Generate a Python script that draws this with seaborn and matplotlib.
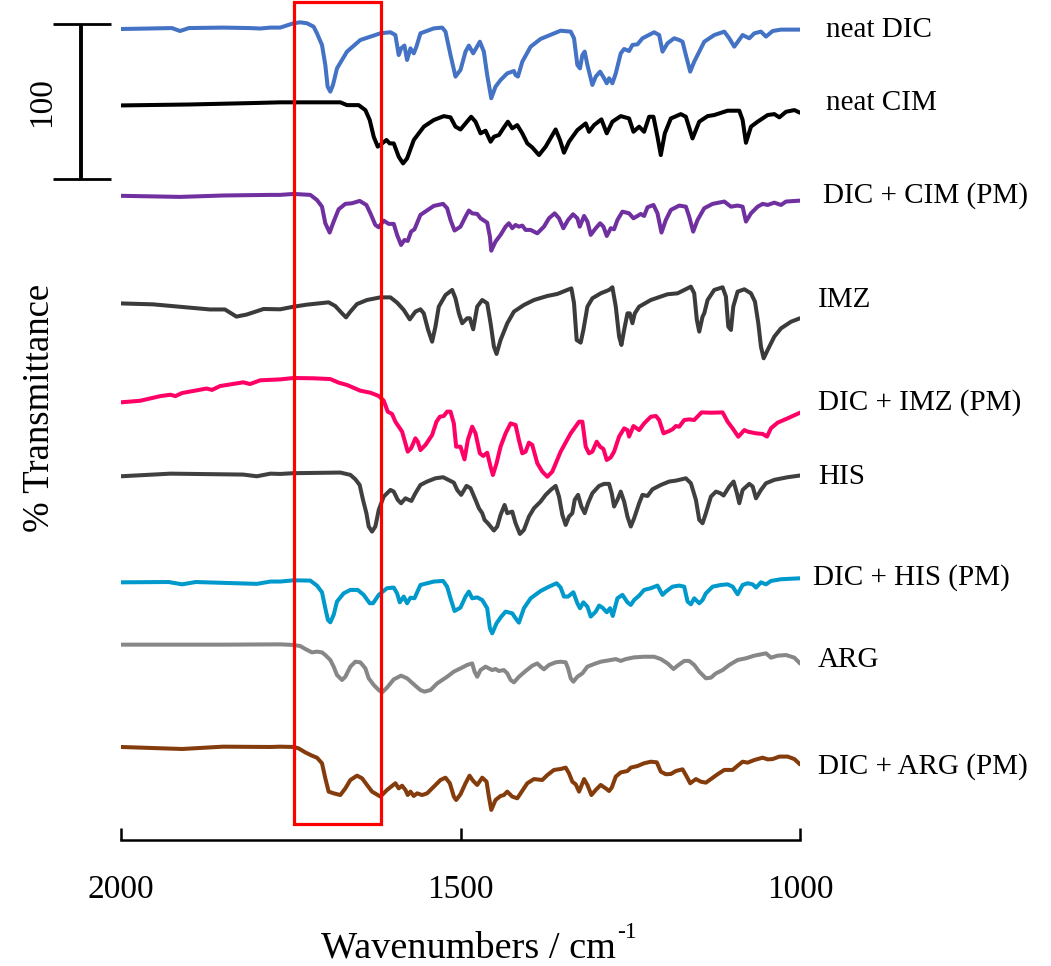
import matplotlib
matplotlib.use("Agg")
import matplotlib.pyplot as plt
from matplotlib.patches import Rectangle
import pandas as pd
import seaborn as sns

# FTIR spectra, (wavenumber / cm-1, % transmittance) pairs per sample
NEAT_DIC = [(2000, 95.7), (1960, 96.0), (1925, 96.3), (1913, 94.4), (1900, 96.3), (1850, 96.6), (1810, 96.3),
            (1795, 96.0), (1780, 96.6), (1765.5, 96.6), (1745.8, 99.4), (1736, 100), (1726.2, 99.4), (1716.3, 97.2),
            (1711.4, 92.9), (1704, 85.4), (1699.1, 72.5), (1695.7, 58.5), (1691.7, 55.3), (1687.8, 59.6),
            (1681.9, 70.3), (1667.2, 81.1), (1647.5, 88.6), (1618, 92.9), (1603.2, 93.6), (1595.9, 91.8),
            (1591, 78.9), (1587.5, 83.2), (1582.6, 85.0), (1578.7, 75.7), (1573.7, 83.2), (1568.8, 80.0),
            (1564.9, 84.3), (1559, 92.9), (1539.3, 96.1), (1527, 96.6), (1522.1, 94.0), (1514.7, 78.9),
            (1507.4, 65.0), (1500, 69.3), (1492.6, 81.1), (1487.7, 85.0), (1481.3, 80.0), (1471.5, 87.5),
            (1465.6, 81.1), (1460.7, 66.0), (1454.7, 51.0), (1448.4, 58.5), (1441, 62.8), (1431.1, 67.1),
            (1421.3, 68.6), (1418.9, 66.0), (1415.4, 65.0), (1409, 74.6), (1396.7, 84.3), (1382, 89.3),
            (1352.5, 94.6), (1337.7, 94.0), (1332.8, 89.7), (1327.9, 72.5), (1324, 70.3), (1320.5, 78.9),
            (1317.1, 81.1), (1313.1, 72.5), (1305.8, 59.6), (1300.8, 65.0), (1294.4, 68.2), (1288.5, 63.9),
            (1284.6, 60.7), (1281.2, 63.9), (1276.3, 60.7), (1271.3, 67.1), (1264, 80.0), (1259, 82.8),
            (1251.7, 81.5), (1246.8, 85.4), (1239.4, 85.8), (1232, 89.7), (1214.8, 93.6), (1207.4, 91.8),
            (1202.5, 81.1), (1195.1, 86.5), (1185.3, 89.7), (1177.9, 88.6), (1173, 87.5), (1168.1, 78.9),
            (1161.7, 68.2), (1155.8, 74.6), (1141, 87.5), (1126.3, 91.8), (1111.5, 94.0), (1104.2, 89.7),
            (1096.8, 84.3), (1084.5, 91.8), (1074.7, 89.7), (1067.3, 92.9), (1057.5, 94.0), (1050.1, 90.8),
            (1040.3, 94.4), (1028, 95.3), (1000, 95.3)]

NEAT_CIM = [(2000, 97.4), (1900, 98.0), (1800, 99.0), (1765.5, 99.4), (1677, 99.4), (1667.2, 97.6), (1650, 97.6),
            (1640.1, 94.4), (1633.7, 88.0), (1627.8, 77.2), (1621.9, 70.8), (1615.5, 72.9), (1609.1, 75.1),
            (1604.2, 72.9), (1598.3, 72.9), (1591, 64.3), (1584.6, 60.0), (1578.7, 63.2), (1568.8, 75.1),
            (1554, 83.7), (1539.3, 88.0), (1524.6, 90.5), (1514.7, 89.7), (1507.4, 83.7), (1500, 81.9),
            (1492.6, 85.8), (1484.3, 90.1), (1477.9, 86.9), (1470.5, 79.4), (1463.1, 81.1), (1455.7, 74.0),
            (1450.8, 77.2), (1443.4, 78.3), (1437, 82.6), (1430.2, 86.9), (1423.8, 82.6), (1416.4, 84.7),
            (1409, 79.4), (1401.6, 72.9), (1394.3, 70.3), (1384.4, 65.4), (1374.6, 70.8), (1359.9, 81.9),
            (1353.5, 75.1), (1347.6, 66.9), (1340.2, 74.0), (1327.9, 81.5), (1315.6, 85.8), (1310.7, 80.4),
            (1303.3, 84.7), (1292.5, 88.4), (1284.6, 79.4), (1276.3, 86.9), (1264, 90.5), (1251.7, 89.0),
            (1245.3, 80.4), (1236.9, 83.7), (1229.6, 80.4), (1222.2, 90.1), (1215.8, 90.1), (1209.9, 77.2),
            (1205, 65.4), (1199.1, 79.4), (1190.2, 89.0), (1175.5, 91.8), (1168.1, 90.1), (1158.3, 76.1),
            (1148.4, 86.9), (1136.1, 90.5), (1126.3, 91.2), (1106.6, 94.0), (1089.4, 94.0), (1084.5, 88.0),
            (1079.6, 73.3), (1072.2, 83.7), (1062.4, 86.9), (1047.6, 91.2), (1037.8, 91.8), (1030.4, 89.7),
            (1020.6, 93.3), (1008.3, 94.4), (1000, 92.7)]

DIC_CIM_PM = [(2000, 98.8), (1913, 98.1), (1850, 99.0), (1780, 99.4), (1765.5, 99.4), (1745.8, 100),
              (1721.2, 99.4), (1711.4, 96.1), (1704, 91.8), (1699.1, 81.1), (1692.7, 75.1), (1686.8, 82.2),
              (1679.5, 90.1), (1669.6, 93.6), (1659.8, 94.0), (1648.5, 95.5), (1638.6, 92.9), (1632.7, 87.5),
              (1625.4, 80.0), (1620.4, 78.5), (1613.1, 82.8), (1605.7, 80.7), (1598.3, 80.7), (1593.4, 73.6),
              (1587.5, 67.1), (1582.6, 70.3), (1577.7, 69.7), (1572.8, 75.7), (1567.8, 77.2), (1559, 86.5),
              (1539.3, 92.3), (1525.6, 93.6), (1519.7, 90.8), (1514.7, 83.2), (1508.8, 76.4), (1500, 78.9),
              (1492.6, 85.4), (1487.7, 89.3), (1482.8, 87.5), (1475.4, 87.1), (1470.5, 84.3), (1460.7, 81.5),
              (1456.7, 72.5), (1454.7, 63.4), (1448.4, 69.3), (1441, 73.6), (1433.6, 78.9), (1428.7, 81.1),
              (1423.8, 77.9), (1418.9, 80.0), (1414, 78.9), (1409, 79.6), (1404.1, 76.8), (1396.7, 76.8),
              (1386.9, 74.6), (1377.1, 78.9), (1369.7, 84.3), (1361.3, 87.5), (1354.9, 84.3), (1348.5, 77.9),
              (1341.6, 83.2), (1334.3, 86.9), (1327.9, 84.3), (1324.4, 78.9), (1318, 85.8), (1313.1, 82.2),
              (1308.2, 73.6), (1300.8, 77.9), (1294.4, 81.1), (1289.5, 78.9), (1284.6, 72.9), (1278.7, 77.9),
              (1273.8, 77.2), (1268.9, 83.2), (1261.5, 88.6), (1251.7, 87.5), (1245.3, 84.3), (1239.4, 85.8),
              (1234.5, 87.1), (1229.6, 85.8), (1224.6, 91.4), (1215.8, 92.9), (1209.9, 87.5), (1204, 75.1),
              (1197.6, 83.2), (1190.2, 89.7), (1177.9, 92.5), (1168.1, 91.8), (1163.2, 85.4), (1157.3, 75.7),
              (1150.9, 83.2), (1141, 90.8), (1128.7, 93.6), (1111.5, 95.1), (1101.7, 91.8), (1091.9, 92.5),
              (1084.5, 91.8), (1079.6, 82.2), (1072.2, 87.5), (1062.4, 91.8), (1055, 93.6), (1047.6, 92.9),
              (1037.8, 94.4), (1028, 92.9), (1020.6, 95.1), (1000, 95.7)]

IMZ = [(2000, 89.2), (1953, 88.6), (1869, 85.3), (1847, 85.3), (1830, 80.7), (1815, 82.0), (1790, 85.6),
       (1765.5, 85.4), (1745.8, 87.1), (1726.2, 88.4), (1694.2, 89.9), (1684.4, 87.5), (1674.5, 82.8),
       (1668.6, 80.2), (1662.2, 83.9), (1652.4, 88.8), (1637.7, 91.4), (1618, 93.1), (1603.2, 93.1),
       (1593.4, 89.7), (1583.6, 85.0), (1574.7, 78.9), (1566.4, 83.9), (1559, 85.4), (1554.1, 82.8),
       (1547.7, 72.1), (1541.8, 64.5), (1536.9, 74.2), (1532, 87.1), (1522.1, 94.6), (1512.3, 97.9),
       (1507.4, 92.5), (1502.4, 82.8), (1497.5, 76.4), (1490.2, 79.6), (1486.2, 79.6), (1481.3, 72.5),
       (1475.4, 87.1), (1468, 91.4), (1460.7, 89.3), (1455.7, 76.4), (1450.8, 61.3), (1446.9, 56.6),
       (1441, 65.6), (1431.1, 76.4), (1421.3, 83.9), (1406.6, 88.2), (1391.8, 91.4), (1372.1, 94.0),
       (1357.4, 95.3), (1342.6, 97.9), (1336.7, 98.9), (1332.8, 89.3), (1328.9, 65.6), (1323, 63.9),
       (1319, 72.1), (1313.1, 87.1), (1305.8, 92.5), (1293.5, 95.7), (1281.2, 97.9), (1276.3, 99.6),
       (1271.3, 87.1), (1266.4, 67.8), (1263, 62.4), (1259, 72.1), (1254.1, 82.8), (1250.7, 82.8),
       (1246.8, 76.4), (1243.3, 82.8), (1236.9, 87.1), (1219.7, 91.4), (1195.1, 95.1), (1180.4, 95.7),
       (1160.7, 100), (1155.8, 95.7), (1151.9, 78.5), (1148.4, 71.0), (1143.5, 80.7), (1141, 82.8),
       (1136.1, 91.4), (1126.3, 97.9), (1114, 99.6), (1109.1, 93.6), (1105.6, 74.2), (1101.7, 72.1),
       (1098.3, 87.1), (1091.9, 96.8), (1082, 98.3), (1072.2, 95.7), (1066.3, 90.3), (1061.4, 76.4),
       (1057.5, 61.3), (1053.5, 53.8), (1047.6, 59.2), (1037.8, 67.8), (1028, 73.1), (1013.2, 77.4),
       (1000, 79.6)]

DIC_IMZ_PM = [(2000, 84.1), (1972, 85.1), (1942, 88.1), (1927, 89.0), (1920, 88.1), (1910, 90.1), (1874, 93.0),
              (1866, 92.1), (1854, 94.6), (1820, 97.0), (1810, 95.9), (1795, 98.3), (1765.5, 98.9),
              (1745.8, 99.8), (1716.3, 99.6), (1691.7, 99.1), (1679.5, 96.8), (1667.2, 95.3), (1647.5, 91.6),
              (1632.7, 90.3), (1620.4, 88.2), (1613.1, 85.2), (1607.2, 78.1), (1600.8, 76.6), (1595.9, 71.6),
              (1586, 65.2), (1581.1, 57.6), (1577.7, 52.3), (1572.8, 54.4), (1566.4, 60.9), (1562.9, 58.7),
              (1559, 53.3), (1551.6, 56.6), (1541.8, 63.0), (1535.4, 71.6), (1530.5, 74.8), (1524.6, 75.3),
              (1519.7, 78.1), (1514.7, 78.1), (1509.8, 70.5), (1506.4, 55.5), (1500, 55.5), (1494.1, 47.3),
              (1489.2, 59.8), (1482.8, 68.4), (1477.9, 64.1), (1471.5, 51.2), (1466.5, 49.5), (1460.7, 51.6),
              (1455.7, 42.6), (1452.3, 37.2), (1446.9, 44.8), (1441, 55.5), (1433.6, 64.1), (1426.2, 70.5),
              (1418.9, 69.5), (1414, 59.8), (1409, 51.2), (1404.1, 52.3), (1399.2, 58.1), (1394.3, 56.6),
              (1386.9, 44.8), (1379.5, 39.4), (1372.1, 36.1), (1364.8, 39.4), (1352.5, 52.3), (1337.7, 64.1),
              (1325.4, 71.6), (1320.5, 71.6), (1315.6, 55.5), (1310.7, 51.2), (1305.8, 52.3), (1299.4, 58.7),
              (1294.5, 55.5), (1289.5, 54.0), (1284.6, 46.9), (1278.7, 48.6), (1273.8, 52.3), (1266.4, 62.0),
              (1259, 67.3), (1254.1, 66.2), (1251.7, 62.0), (1245.3, 68.8), (1240.4, 67.3), (1236.9, 66.2),
              (1229.6, 70.5), (1219.7, 74.8), (1212.3, 75.3), (1207.4, 72.7), (1201, 64.1), (1192.7, 65.6),
              (1187.8, 66.7), (1182.8, 68.8), (1177.9, 68.4), (1170.5, 72.7), (1163.2, 73.1), (1155.8, 72.7),
              (1145, 77.6), (1131.2, 77.4), (1114, 77.6), (1106.6, 71.6), (1099.2, 67.3), (1090.9, 61.9),
              (1082, 66.2), (1077.1, 65.2), (1064.8, 64.1), (1055, 63.7), (1048.6, 62.0), (1042.7, 67.4),
              (1032.9, 71.0), (1018.1, 73.8), (1000, 77.4)]

HIS = [(2000, 97.4), (1927, 99.1), (1820, 98.5), (1800, 97.4), (1780, 99.1), (1765.5, 98.9), (1745.8, 99.4),
       (1677, 99.8), (1662.2, 98.3), (1654.9, 95.5), (1648.5, 91.8), (1643.6, 82.2), (1638.6, 73.6),
       (1635.2, 65.0), (1630.3, 61.7), (1625.4, 65.0), (1620.4, 75.7), (1613.1, 84.3), (1603.2, 88.6),
       (1598.3, 87.5), (1592.4, 82.2), (1587.5, 80.0), (1581.1, 83.2), (1576.2, 82.2), (1572.3, 81.5),
       (1566.4, 86.5), (1559, 91.8), (1549.2, 94.0), (1536.9, 96.1), (1525.6, 96.8), (1519.7, 95.5),
       (1509.8, 93.3), (1504.9, 88.6), (1499, 85.4), (1491.1, 91.2), (1485.2, 89.7), (1477.9, 82.2),
       (1472.9, 76.8), (1468, 73.6), (1464.6, 69.3), (1459.7, 67.1), (1450.8, 62.4), (1445.9, 65.0),
       (1441, 72.5), (1435.1, 78.9), (1431.1, 73.6), (1423.8, 74.6), (1418.9, 67.1), (1412.5, 60.2),
       (1406.6, 62.8), (1399.2, 71.4), (1391.8, 76.8), (1382, 81.1), (1374.6, 85.4), (1367.2, 88.6),
       (1359.9, 91.2), (1354.9, 84.3), (1350, 72.5), (1345.1, 66.0), (1340.2, 71.4), (1335.3, 73.6),
       (1331.8, 82.2), (1326.9, 85.4), (1322, 77.9), (1317.1, 73.6), (1312.2, 80.0), (1305.8, 86.5),
       (1295.9, 91.2), (1288.5, 92.5), (1281.2, 92.5), (1277.3, 86.5), (1273.8, 77.9), (1268.9, 82.2),
       (1264, 87.5), (1259, 81.1), (1254.1, 71.4), (1249.2, 65.0), (1244.3, 70.3), (1236.9, 80.0),
       (1232, 85.4), (1224.6, 84.7), (1217.3, 89.0), (1205, 91.8), (1192.7, 94.0), (1182.8, 94.6),
       (1168.1, 96.1), (1160.7, 92.9), (1153.3, 82.2), (1148.4, 69.3), (1143.5, 67.1), (1138.6, 73.6),
       (1131.2, 84.3), (1123.8, 87.5), (1117.4, 86.5), (1112.5, 85.0), (1104.2, 90.8), (1097.8, 94.0),
       (1092.9, 86.5), (1089.4, 80.0), (1084.5, 88.6), (1074.7, 92.5), (1069.7, 90.8), (1064.8, 83.2),
       (1057.5, 88.6), (1050.1, 92.9), (1037.8, 95.1), (1018.1, 96.8), (1000, 97.9)]

DIC_HIS_PM = [(2000, 97.4), (1930, 97.6), (1910, 96.1), (1890, 97.6), (1800, 96.4), (1780, 97.9), (1765.5, 97.9),
              (1745.8, 98.7), (1721.2, 98.5), (1711.4, 95.3), (1704, 91.0), (1699.1, 80.7), (1695.2, 73.1),
              (1691.7, 71.6), (1686.8, 76.4), (1681.9, 85.0), (1672.1, 90.3), (1662.2, 92.5), (1651.4, 92.5),
              (1642.6, 89.3), (1633.7, 83.9), (1628.8, 83.9), (1620.4, 89.3), (1608.2, 93.6), (1598.3, 94.0),
              (1593.4, 90.3), (1589.5, 84.5), (1583.6, 88.2), (1578.7, 83.9), (1573.7, 87.5), (1567.8, 87.1),
              (1559, 95.7), (1539.3, 97.9), (1525.6, 98.3), (1519.7, 94.6), (1514.7, 87.1), (1508.8, 78.9),
              (1500, 81.1), (1492.6, 88.2), (1487.7, 91.4), (1482.8, 87.1), (1475.4, 87.7), (1468, 86.0),
              (1460.7, 80.7), (1456.7, 67.8), (1453.3, 64.5), (1446.9, 71.0), (1440, 75.3), (1433.6, 78.5),
              (1423.8, 77.4), (1418.9, 74.2), (1414, 71.4), (1406.6, 80.7), (1396.7, 87.1), (1382, 91.8),
              (1369.7, 94.6), (1358.4, 96.8), (1352.5, 94.0), (1347.6, 88.2), (1341.6, 88.2), (1333.8, 91.0),
              (1327.9, 83.9), (1324, 80.7), (1319, 84.5), (1313.1, 81.7), (1308.2, 75.3), (1300.8, 78.5),
              (1295.9, 82.4), (1291, 81.1), (1284.6, 78.1), (1279.7, 80.7), (1275.8, 75.7), (1268.9, 87.1),
              (1261.5, 89.3), (1254.1, 84.5), (1249.2, 82.8), (1244.3, 86.0), (1236.9, 88.8), (1229.6, 92.5),
              (1219.7, 93.6), (1209.9, 95.3), (1202.5, 89.3), (1197.6, 91.4), (1187.8, 94.6), (1177.9, 95.3),
              (1170.5, 94.6), (1165.6, 85.0), (1160.7, 83.2), (1155.8, 87.1), (1148.4, 83.9), (1143.5, 86.0),
              (1138.6, 90.3), (1128.7, 94.6), (1116.5, 95.7), (1106.6, 96.1), (1099.2, 94.6), (1091.9, 89.7),
              (1084.5, 95.7), (1077.1, 96.8), (1069.7, 96.1), (1064.8, 94.0), (1057.5, 97.4), (1050.1, 96.1),
              (1042.7, 98.3), (1028, 99.4), (1000, 100)]

ARG = [(2000, 99.8), (1850, 99.8), (1765.5, 100), (1745.8, 99.6), (1736, 98.9), (1728.6, 97.0), (1718.8, 94.8),
       (1711.4, 95.3), (1704, 94.8), (1699.1, 93.1), (1691.7, 89.9), (1686.8, 85.6), (1681.9, 80.2),
       (1674.5, 77.0), (1669.6, 79.1), (1662.2, 85.6), (1654.9, 88.8), (1647.5, 88.4), (1640.1, 84.5),
       (1635.2, 78.1), (1627.8, 73.8), (1620.4, 70.5), (1615.5, 69.0), (1608.2, 72.1), (1598.3, 77.4),
       (1587.5, 79.8), (1578.7, 78.1), (1568.8, 74.2), (1559, 70.5), (1553.1, 69.5), (1544.2, 70.5),
       (1534.4, 74.8), (1519.7, 79.1), (1509.8, 82.4), (1500, 84.5), (1490.2, 86.7), (1482.8, 87.7),
       (1479.3, 82.4), (1475.4, 79.1), (1470.5, 83.4), (1463.1, 85.6), (1458.2, 84.5), (1453.3, 83.4),
       (1448.4, 84.1), (1443.4, 82.8), (1436.1, 83.4), (1431.1, 81.3), (1426.2, 77.0), (1421.3, 75.5),
       (1413.9, 79.1), (1404.1, 82.8), (1394.3, 86.2), (1386.9, 87.7), (1382, 85.6), (1377.1, 83.9),
       (1369.7, 86.7), (1359.9, 88.4), (1352.5, 88.8), (1345.1, 88.4), (1341.6, 84.5), (1337.7, 78.1),
       (1333.8, 75.9), (1327.9, 79.1), (1320.5, 81.3), (1313.1, 85.6), (1303.3, 87.3), (1293.5, 88.8),
       (1278.7, 89.9), (1271.3, 90.5), (1264, 89.3), (1256.6, 90.5), (1244.3, 91.6), (1229.6, 92.0),
       (1214.8, 92.0), (1205, 90.5), (1195.1, 87.7), (1186.3, 84.1), (1180.4, 86.2), (1170.5, 89.3),
       (1163.2, 89.3), (1155.8, 86.7), (1148.4, 82.4), (1138.6, 78.1), (1131.2, 78.5), (1123.8, 81.3),
       (1114, 83.4), (1104.2, 86.7), (1091.9, 89.9), (1079.6, 91.0), (1067.3, 92.7), (1050.1, 94.2),
       (1042.7, 91.4), (1032.9, 92.7), (1020.6, 93.1), (1008.3, 91.4), (1000, 87.7)]

DIC_ARG_PM = [(2000, 99.8), (1910, 98.5), (1850, 100), (1780, 99.8), (1765.5, 100), (1745.8, 99.8),
              (1738.5, 98.9), (1728.6, 96.3), (1718.8, 94.2), (1711.4, 92.9), (1704, 89.3), (1699.1, 79.6),
              (1694.2, 71.0), (1686.8, 69.9), (1677, 68.8), (1669.6, 73.1), (1662.2, 78.5), (1652.4, 81.3),
              (1645, 79.6), (1637.7, 75.3), (1630.3, 71.0), (1618, 67.8), (1608.2, 72.1), (1595.9, 76.4),
              (1591, 73.1), (1586, 74.8), (1581.1, 72.1), (1577.7, 68.8), (1573.7, 71.0), (1568.8, 68.2),
              (1563.9, 69.9), (1556.5, 68.8), (1549.2, 69.9), (1539.3, 74.2), (1529.5, 78.5), (1522.1, 80.0),
              (1515.7, 76.4), (1509.8, 67.8), (1506.4, 65.6), (1500, 69.3), (1492.6, 76.4), (1486.7, 81.3),
              (1481.3, 77.9), (1475.4, 75.3), (1468, 80.0), (1461.6, 77.4), (1458.2, 67.8), (1454.7, 59.2),
              (1448.4, 65.6), (1441, 68.2), (1436.1, 68.8), (1431.1, 71.0), (1423.8, 67.8), (1416.4, 66.7),
              (1411.5, 69.9), (1401.6, 76.4), (1391.8, 79.1), (1379.5, 78.5), (1372.1, 81.7), (1362.3, 85.0),
              (1352.5, 85.6), (1345.1, 86.5), (1340.2, 82.8), (1335.3, 77.4), (1330.3, 75.7), (1325.4, 71.0),
              (1318, 79.1), (1313.1, 75.3), (1307.2, 68.8), (1300.8, 72.1), (1293.5, 75.3), (1286.1, 73.1),
              (1281.2, 71.4), (1277.2, 73.6), (1271.3, 80.7), (1264, 83.4), (1254.1, 84.3), (1249.2, 86.5),
              (1239.4, 87.5), (1229.6, 89.3), (1219.7, 90.3), (1210.9, 89.9), (1205, 83.9), (1197.6, 82.2),
              (1190.2, 82.4), (1182.8, 84.3), (1173, 85.4), (1168.1, 81.7), (1161.7, 76.4), (1153.3, 79.1),
              (1145.9, 77.4), (1138.6, 76.8), (1131.2, 79.1), (1121.4, 82.2), (1111.5, 85.0), (1099.2, 85.0),
              (1091.9, 87.7), (1084.5, 90.3), (1077.1, 89.7), (1067.3, 91.4), (1055, 92.9), (1047.6, 91.8),
              (1040.3, 92.0), (1030.4, 93.6), (1018.1, 93.6), (1008.3, 92.0), (1000, 88.6)]

SAMPLES = ["neat DIC", "neat CIM", "DIC + CIM (PM)", "IMZ", "DIC + IMZ (PM)",
           "HIS", "DIC + HIS (PM)", "ARG", "DIC + ARG (PM)"]
SPECTRA = [NEAT_DIC, NEAT_CIM, DIC_CIM_PM, IMZ, DIC_IMZ_PM, HIS, DIC_HIS_PM, ARG, DIC_ARG_PM]
# vertical stacking offsets (in % transmittance units)
OFFSETS = [427.4, 376.4, 316.7, 256.9, 198.2, 137.2, 68.8, 26.2, -39.8]
COLORS = ["#4472C4", "#000000", "#7030A0", "#3B3B3B", "#FF0066",
          "#404040", "#0099CC", "#878787", "#843C0C"]
# label anchor (wavenumber, stacked value) placed right of each spectrum
LABEL_X = [961.6, 961.6, 966.0, 973.4, 973.4, 973.4, 980.8, 973.4, 973.4]
LABEL_Y = [522.5, 475.4, 416.0, 348.3, 281.9, 234.1, 169.6, 116.1, 47.1]

# highlighted carbonyl region and the 100 % scale bar
HIGHLIGHT = (1745, 1617)
SCALE_BAR = 100

sns.set_style("white")
plt.rcParams["font.family"] = ["Liberation Serif", "DejaVu Serif"]
plt.rcParams["text.color"] = "black"
plt.rcParams["xtick.color"] = "black"
plt.rcParams["xtick.labelcolor"] = "black"

rows = []
for name, spec, off in zip(SAMPLES, SPECTRA, OFFSETS):
    for wn, t in spec:
        rows.append({"wavenumber": wn, "stacked": t + off, "sample": name})
df = pd.DataFrame(rows)

fig = plt.figure(figsize=(10.51, 9.66), dpi=100)
ax = fig.add_axes([121 / 1051, 126 / 966, 679 / 1051, 840 / 966])

sns.lineplot(data=df, x="wavenumber", y="stacked", hue="sample", hue_order=SAMPLES,
             palette=dict(zip(SAMPLES, COLORS)), estimator=None, sort=False,
             linewidth=2.9, legend=False, ax=ax,
             solid_joinstyle="round", solid_capstyle="round")

ax.set_xlim(2000, 1000)
ax.set_ylim(0, 541.8)
ax.set_xticks([2000, 1500, 1000])
ax.set_yticks([])
ax.set_xlabel("")
ax.set_ylabel("")
for side in ("left", "top", "right"):
    ax.spines[side].set_visible(False)
ax.spines["bottom"].set_linewidth(1.8)
ax.spines["bottom"].set_color("black")
ax.tick_params(axis="x", bottom=True, direction="in", length=9, width=1.8,
               color="black", labelcolor="black", labelsize=24, pad=25)

# highlighted band
ax.add_patch(Rectangle((HIGHLIGHT[0], 10.3), HIGHLIGHT[1] - HIGHLIGHT[0], 530.2,
                       fill=False, edgecolor="#FF0000", linewidth=2.3,
                       clip_on=False, zorder=5))

# scale bar for 100 % transmittance
bar_top = 526.1
bar_bot = bar_top - SCALE_BAR
ax.plot([2059, 2059], [bar_bot, bar_top], color="black", lw=2.8, clip_on=False,
        solid_capstyle="butt")
for yb in (bar_bot, bar_top):
    ax.plot([2100.3, 2014.8], [yb, yb], color="black", lw=2.0, clip_on=False,
            solid_capstyle="butt")
ax.text(2117, (bar_top + bar_bot) / 2, str(SCALE_BAR), rotation=90, ha="center",
        va="center", fontsize=24, color="black", clip_on=False)

for name, lx, ly in zip(SAMPLES, LABEL_X, LABEL_Y):
    ax.text(lx, ly, name, ha="left", va="center", fontsize=21, color="black",
            clip_on=False)

# x-axis title with a raised "-1" exponent
title = fig.text(321 / 1051, 1 - 957 / 966, "Wavenumbers / cm", ha="left",
                 va="baseline", fontsize=27.5, color="black")
renderer = fig.canvas.get_renderer()
bb = title.get_window_extent(renderer=renderer)
fig.text(bb.x1 / fig.bbox.width + 0.001, 1 - 938 / 966, "-1", ha="left",
         va="baseline", fontsize=17, color="black")

fig.text(40 / 1051, 1 - 408 / 966, "% Transmittance", rotation=90,
         ha="center", va="center", fontsize=26.5, color="black")

fig.savefig("out.png", dpi=100, facecolor="white")
